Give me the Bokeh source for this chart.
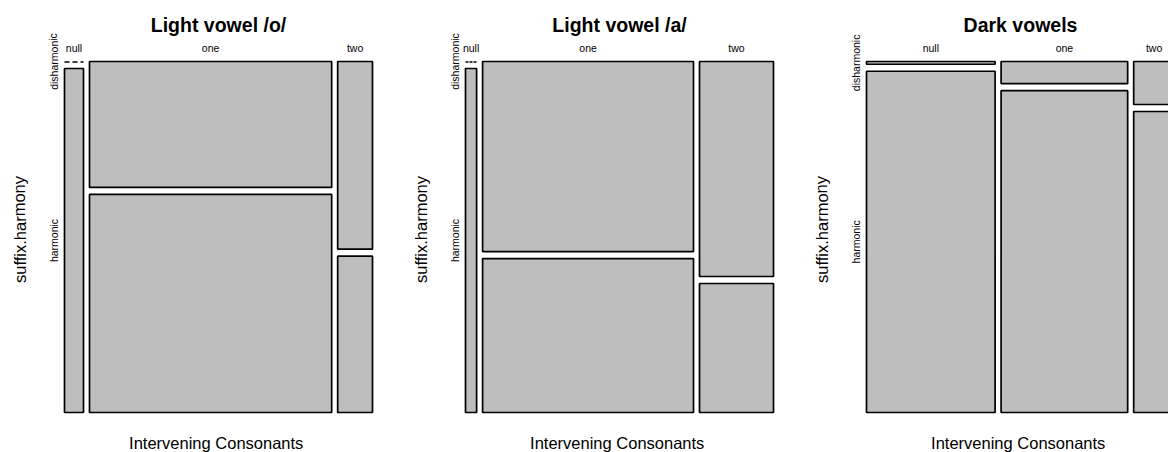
import numpy as np
from bokeh.plotting import figure
from bokeh.models import Range1d, ColumnDataSource
from bokeh.embed import file_html
from bokeh.resources import INLINE
from bokeh.core.properties import value

# ---------------- data ----------------
panel_titles = ["Light vowel /o/", "Light vowel /a/", "Dark vowels"]
consonants = ["null", "one", "two"]
harmony = ["disharmonic", "harmonic"]
# counts per panel, per consonant column
dis_counts = [[0, 56, 12], [0, 63, 25], [1, 8, 5]]
harm_counts = [[12, 97, 10], [6, 51, 15], [125, 116, 35]]
x_label = "Intervening  Consonants"
y_label = "suffix.harmony"

# ---------------- layout (picture pixels) ----------------
W, H = 1168, 452
panel_left = [64, 465, 866]
area_w = 308
col_gap = 6
row_gap = 7
top_y = 61
bot_y = 412
FONT = "Liberation Sans"
FILL = "#BEBEBE"

p = figure(width=W, height=H, output_backend="svg", toolbar_location=None,
           x_range=Range1d(0, W), y_range=Range1d(H, 0),
           min_border=0, x_axis_location=None, y_axis_location=None)
p.xgrid.visible = False
p.ygrid.visible = False
p.outline_line_color = None
p.background_fill_color = "white"
p.border_fill_color = "white"

quads = dict(left=[], right=[], top=[], bottom=[])
zeros = dict(x0=[], x1=[], y=[], dash=[])
txt = dict(x=[], y=[], text=[], size=[], style=[], angle=[])


def add_text(x, y, t, size, style="normal", angle=0.0):
    # y is the vertical centre of the text
    txt["x"].append(x); txt["y"].append(y); txt["text"].append(t)
    txt["size"].append(size); txt["style"].append(style)
    txt["angle"].append(angle)


for k in range(3):
    dis = np.array(dis_counts[k], dtype=float)
    har = np.array(harm_counts[k], dtype=float)
    tot = dis + har
    avail_w = area_w - col_gap * (len(consonants) - 1)
    widths = avail_w * tot / tot.sum()
    avail_h = (bot_y - top_y) - row_gap
    x = panel_left[k]
    first_centers = []
    for j in range(len(consonants)):
        x0, x1 = x, x + widths[j]
        dh = avail_h * dis[j] / tot[j]
        if dis[j] == 0:
            zeros["x0"].append(x0); zeros["x1"].append(x1)
            zeros["y"].append(top_y + 0.5)
            zeros["dash"].append("5 3" if widths[j] > 15 else "3 1")
        else:
            quads["left"].append(x0); quads["right"].append(x1)
            quads["top"].append(top_y); quads["bottom"].append(top_y + dh)
        h_top = top_y + dh + row_gap
        quads["left"].append(x0); quads["right"].append(x1)
        quads["top"].append(h_top); quads["bottom"].append(bot_y)
        if j == 0:
            first_centers = [top_y + dh / 2, (h_top + bot_y) / 2]
        add_text(min((x0 + x1) / 2, W - 12), 47.5, consonants[j], "10.5px")
        x = x1 + col_gap
    cx = panel_left[k] + area_w / 2
    add_text(cx, 24, panel_titles[k], "19.5px", "bold")
    add_text(cx, 442, x_label, "16.5px")
    add_text(panel_left[k] - 45, 229, y_label, "16.5px", angle=np.pi / 2)
    for lab, cy in zip(harmony, first_centers):
        add_text(panel_left[k] - 11, cy, lab, "10.5px", angle=np.pi / 2)

p.quad(left="left", right="right", top="top", bottom="bottom",
       source=ColumnDataSource(quads), fill_color=FILL,
       line_color="black", line_width=1.7)

for i in range(len(zeros["y"])):
    p.segment(x0=[zeros["x0"][i]], x1=[zeros["x1"][i]],
              y0=[zeros["y"][i]], y1=[zeros["y"][i]],
              line_color="black", line_width=1.7, line_dash=zeros["dash"][i])

for style in ["normal", "bold"]:
    idx = [i for i in range(len(txt["x"])) if txt["style"][i] == style]
    sub = ColumnDataSource({key: [txt[key][i] for i in idx] for key in txt})
    p.text(x="x", y="y", text="text", angle="angle", source=sub,
           text_font=value(FONT), text_font_size="size",
           text_font_style=style, text_align="center", text_baseline="middle",
           text_color="black")

open("out.html", "w").write(file_html(p, INLINE))
